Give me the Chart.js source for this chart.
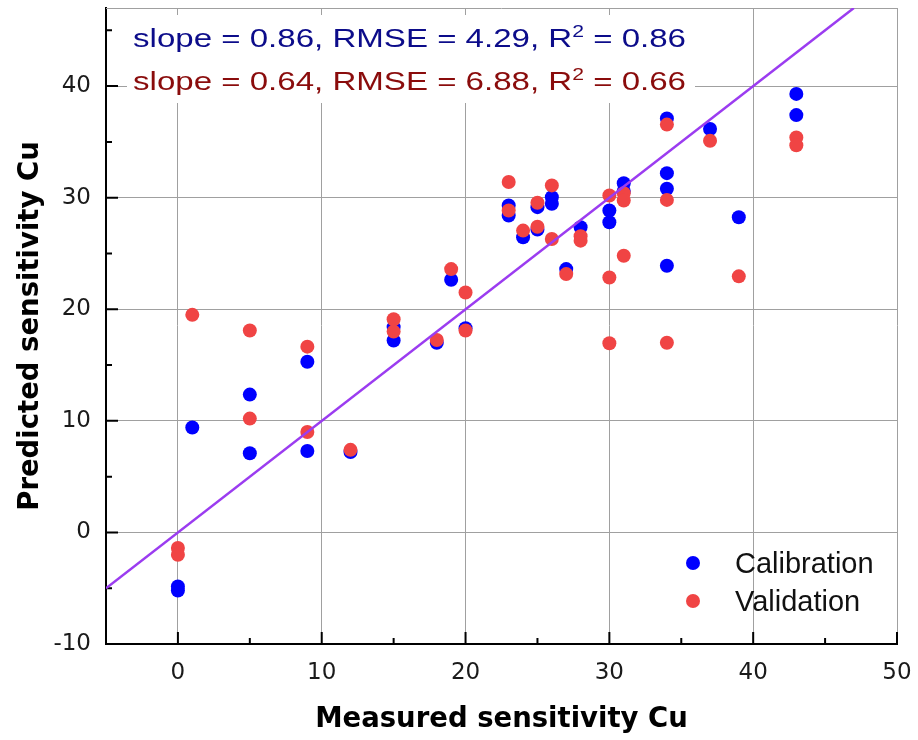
<!DOCTYPE html>
<html>
<head>
<meta charset="utf-8">
<script src="https://cdn.jsdelivr.net/npm/chart.js@4.4.1/dist/chart.umd.min.js"></script>
<style>
  html, body { margin: 0; padding: 0; background: #fff; }
</style>
</head>
<body>
<canvas id="chart" width="918" height="740"></canvas>
<script>
// measured / predicted values
const calibX = [0, 0, 1, 5, 5, 9, 9, 12, 15, 15, 18, 19, 20, 23, 23, 24, 25, 25, 26, 26, 27, 28, 30, 30, 31, 31, 34, 34, 34, 34, 37, 39, 43, 43];
const calibY = [-4.85, -5.2, 9.4, 12.35, 7.1, 15.3, 7.3, 7.2, 18.4, 17.2, 17.0, 22.65, 18.3, 29.3, 28.4, 26.45, 29.15, 27.15, 30.05, 29.45, 23.6, 27.35, 28.85, 27.8, 31.3, 30.6, 37.1, 32.2, 30.8, 23.9, 36.15, 28.25, 39.3, 37.4];

const validX = [0, 0, 1, 5, 5, 9, 9, 12, 15, 15, 18, 19, 20, 20, 23, 23, 24, 25, 25, 26, 26, 27, 28, 28, 30, 30, 30, 31, 31, 31, 34, 34, 34, 37, 39, 43, 43];
const validY = [-1.4, -2.0, 19.5, 18.1, 10.2, 16.65, 9.0, 7.4, 19.1, 18.0, 17.25, 23.6, 21.5, 18.1, 31.4, 28.85, 27.05, 29.55, 27.4, 31.1, 26.3, 23.15, 26.55, 26.15, 30.2, 22.85, 16.95, 30.4, 29.75, 24.8, 36.55, 29.8, 17.0, 35.1, 22.95, 35.4, 34.7];

// 1:1 reference line ends
const identityLine = [-5, 47];

// slope, RMSE, R2
const calibStats = [0.86, 4.29, 0.86];
const validStats = [0.64, 6.88, 0.66];

const seriesNames = ['Calibration', 'Validation'];

const xTicks = [0, 10, 20, 30, 40, 50];
const yTicks = [-10, 0, 10, 20, 30, 40];
const xMinor = [5, 15, 25, 35, 45];
const yMinor = [-5, 5, 15, 25, 35, 45];

const BLUE = '#0000ff';
const RED = '#f04444';

function toPoints(xs, ys) {
    return xs.map((x, i) => ({ x: x, y: ys[i] }));
}

// scale box sizes fixed so the plot area sits where the original one is
function fixBox(s, w, h) {
    if (w) s.width = w;
    if (h) s.height = h;
    s.paddingLeft = 0;
    s.paddingRight = 0;
    s.paddingTop = 0;
    s.paddingBottom = 0;
}

// inward ticks, frame, stats box
const decorPlugin = {
    id: 'decor',
    beforeDatasetsDraw(chart) {
        const ctx = chart.ctx;
        const a = chart.chartArea;
        const sx = chart.scales.x, sy = chart.scales.y;
        ctx.save();

        // top frame line
        ctx.strokeStyle = '#a0a0a0';
        ctx.lineWidth = 1;
        ctx.beginPath();
        ctx.moveTo(a.left, a.top + 0.5);
        ctx.lineTo(a.right, a.top + 0.5);
        ctx.stroke();

        // white box behind the stats text
        ctx.fillStyle = '#fff';
        ctx.fillRect(127, 15, 568, 88);

        // ticks pointing inside
        ctx.strokeStyle = '#000';
        ctx.lineWidth = 2;
        ctx.beginPath();
        xTicks.forEach(v => { const p = sx.getPixelForValue(v); ctx.moveTo(p, a.bottom); ctx.lineTo(p, a.bottom - 12); });
        xMinor.forEach(v => { const p = sx.getPixelForValue(v); ctx.moveTo(p, a.bottom); ctx.lineTo(p, a.bottom - 6); });
        yTicks.forEach(v => { const p = sy.getPixelForValue(v); ctx.moveTo(a.left, p); ctx.lineTo(a.left + 12, p); });
        yMinor.forEach(v => { const p = sy.getPixelForValue(v); ctx.moveTo(a.left, p); ctx.lineTo(a.left + 6, p); });
        ctx.stroke();

        // stats lines
        drawStats(ctx, calibStats, '#0c0c8a', 47);
        drawStats(ctx, validStats, '#8a0c0c', 90);
        ctx.restore();
    },
    afterDraw(chart) {
        const ctx = chart.ctx;
        ctx.save();
        const rows = [[BLUE, 563], [RED, 601]];
        rows.forEach((r, i) => {
            ctx.fillStyle = r[0];
            ctx.beginPath();
            ctx.arc(693, r[1], 7, 0, Math.PI * 2);
            ctx.fill();
            ctx.fillStyle = '#111';
            ctx.font = '29px "Liberation Sans", Arial, sans-serif';
            ctx.textBaseline = 'alphabetic';
            ctx.fillText(seriesNames[i], 735, r[1] + 10);
        });
        ctx.restore();
    }
};

function drawStats(ctx, stats, color, baseline) {
    const big = '25px "Liberation Sans", Arial, sans-serif';
    const small = '16px "Liberation Sans", Arial, sans-serif';
    const parts = [
        ['slope = ' + stats[0].toFixed(2) + ', RMSE = ' + stats[1].toFixed(2) + ', R', big, 0],
        ['2', small, -10],
        [' = ' + stats[2].toFixed(2), big, 0]
    ];
    let total = 0;
    parts.forEach(p => { ctx.font = p[1]; total += ctx.measureText(p[0]).width; });
    const stretch = 553 / total;
    ctx.save();
    ctx.translate(133, baseline);
    ctx.scale(stretch, 1);
    ctx.fillStyle = color;
    ctx.textBaseline = 'alphabetic';
    let x = 0;
    parts.forEach(p => {
        ctx.font = p[1];
        ctx.fillText(p[0], x, p[2]);
        x += ctx.measureText(p[0]).width;
    });
    ctx.restore();
}

const ctx = document.getElementById('chart').getContext('2d');
new Chart(ctx, {
    type: 'scatter',
    data: {
        datasets: [
            {
                type: 'line',
                label: '1:1',
                data: toPoints(identityLine, identityLine),
                borderColor: '#9b3cf0',
                borderWidth: 2.5,
                pointRadius: 0,
                fill: false
            },
            {
                label: seriesNames[1],
                data: toPoints(validX, validY),
                backgroundColor: RED,
                borderWidth: 0,
                pointRadius: 7
            },
            {
                label: seriesNames[0],
                data: toPoints(calibX, calibY),
                backgroundColor: BLUE,
                borderWidth: 0,
                pointRadius: 7
            }
        ]
    },
    options: {
        responsive: false,
        animation: false,
        devicePixelRatio: 1,
        layout: { padding: { top: 8, right: 21, left: 0, bottom: 0 } },
        plugins: {
            legend: { display: false },
            tooltip: { enabled: false }
        },
        scales: {
            x: {
                type: 'linear',
                min: -5,
                max: 50,
                afterBuildTicks: s => { s.ticks = xTicks.map(v => ({ value: v })); },
                afterFit: s => fixBox(s, 0, 96),
                grid: { color: '#a0a0a0', lineWidth: 1, drawTicks: false },
                border: { color: '#000', width: 2 },
                ticks: {
                    padding: 15,
                    color: '#1a1a1a',
                    font: { family: '"DejaVu Sans"', size: 23 }
                },
                title: {
                    display: true,
                    text: 'Measured sensitivity Cu',
                    color: '#000',
                    padding: { top: 4, bottom: 4 },
                    font: { family: '"DejaVu Sans"', size: 27.5, weight: 'bold' }
                }
            },
            y: {
                type: 'linear',
                min: -10,
                max: 47,
                afterBuildTicks: s => { s.ticks = yTicks.map(v => ({ value: v })); },
                afterFit: s => fixBox(s, 106, 0),
                grid: { color: '#a0a0a0', lineWidth: 1, drawTicks: false },
                border: { color: '#000', width: 2 },
                ticks: {
                    padding: 15,
                    color: '#1a1a1a',
                    font: { family: '"DejaVu Sans"', size: 23 }
                },
                title: {
                    display: true,
                    text: 'Predicted sensitivity Cu',
                    color: '#000',
                    padding: { top: 14, bottom: 14 },
                    font: { family: '"DejaVu Sans"', size: 27.5, weight: 'bold' }
                }
            }
        }
    },
    plugins: [decorPlugin]
});
</script>
</body>
</html>
